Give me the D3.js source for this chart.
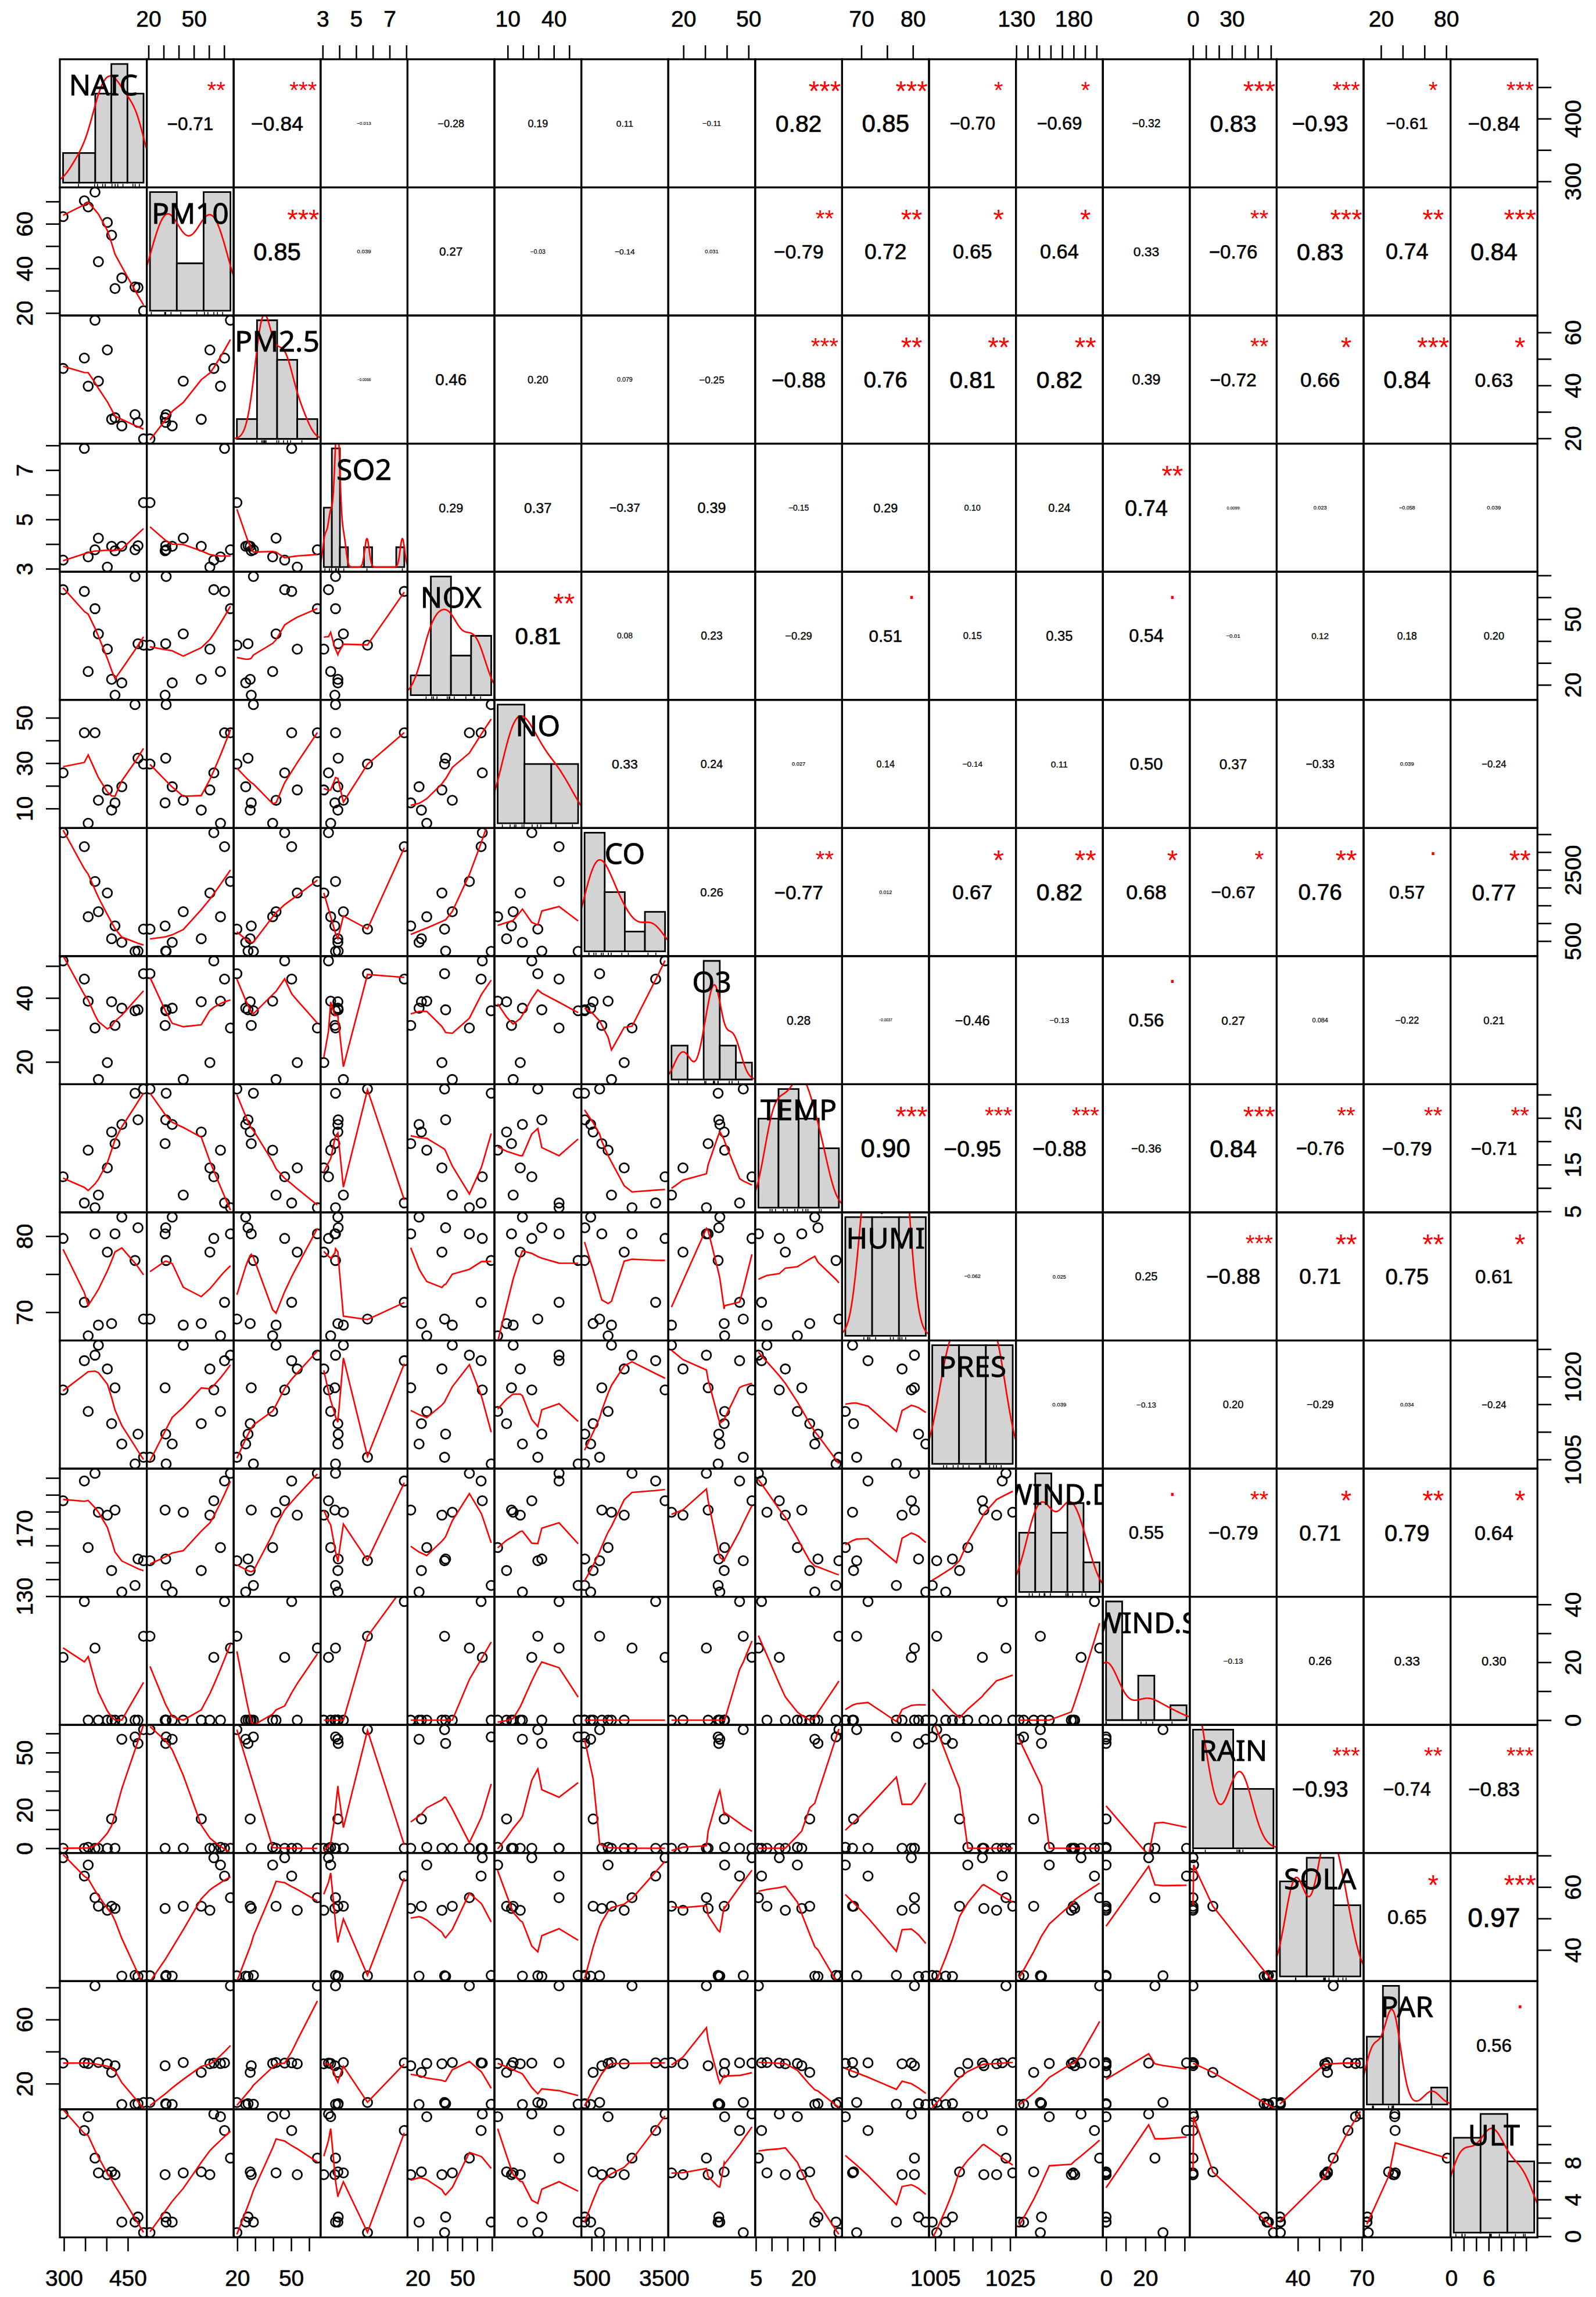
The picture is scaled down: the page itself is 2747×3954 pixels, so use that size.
<!DOCTYPE html>
<html>
<head>
<meta charset="utf-8">
<script src="https://cdn.jsdelivr.net/npm/d3@7"></script>
<style>
  body { margin: 0; background: #fff; }
</style>
</head>
<body>
<div id="chart"></div>
<script>
// Variables in the order of the matrix
const vars = ["NAIC", "PM10", "PM2.5", "SO2", "NOX", "NO", "CO", "O3", "TEMP",
              "HUMI", "PRES", "WIND.D", "WIND.S", "RAIN", "SOLA", "PAR", "ULT"];

const NAIC  = [298, 348, 357, 373, 381, 402, 412, 420, 436, 467, 474, 487];
const PM10  = [63.2, 70.3, 67.6, 74.2, 43.0, 60.6, 54.9, 31.0, 35.7, 31.7, 31.4, 21.0];
const PM25  = [46.4, 50.3, 39.7, 64.6, 41.6, 53.4, 27.2, 27.8, 24.7, 29.0, 26.0, 19.8];
const SO2   = [3.35, 7.88, 3.48, 3.77, 4.24, 3.07, 3.91, 3.73, 3.91, 3.77, 3.93, 5.68];
const NOX   = [63.5, 62.7, 26.1, 54.8, 43.3, 36.3, 22.5, 15.3, 20.9, 69.5, 38.8, 38.1];
const NO    = [25.7, 43.4, 3.5, 43.4, 13.6, 18.2, 9.3, 12.5, 19.6, 55.8, 32.2, 29.6];
const CO    = [3543, 3154, 1184, 2175, 1325, 1852, 565, 925, 463, 210, 220, 834];
const O3    = [51.6, 45.9, 39.0, 30.6, 14.5, 19.8, 38.8, 31.4, 36.8, 36.0, 36.3, 47.6];
const TEMP  = [12.4, 6.8, 18.1, 5.8, 8.5, 14.3, 22.0, 19.5, 23.6, 30.3, 24.6, 31.2];
const HUMI  = [79.7, 71.3, 66.9, 80.3, 68.3, 77.9, 68.5, 80.3, 82.5, 76.8, 81.1, 69.1];
const PRES  = [1017.6, 1022.9, 1013.7, 1023.9, 1025.7, 1021.4, 1011.5, 1018.0, 1007.8, 1004.2, 1009.6, 1005.4];
const WINDD = [186.5, 198.2, 158.8, 202.7, 179.7, 178.0, 145.2, 181.0, 132.5, 136.4, 152.0, 151.0];
const WINDS = [21.7, 41.0, 0, 24.9, 0, 0, 0, 0, 0, 0, 0, 29.0];
const RAIN  = [0, 0, 0.5, 0, 0, 0, 15.3, 0, 57.0, 58.2, 54.8, 62.0];
const SOLA  = [69.3, 63.5, 67.0, 56.6, 53.9, 52.6, 53.9, 53.2, 31.7, 31.9, 31.6, 31.8];
const PAR   = [32.8, 33.0, 32.6, 81.0, 33.2, 32.4, 27.0, 31.2, 7.0, 7.2, 7.5, 8.3];
const ULT   = [13.3, 11.5, 13.0, 8.5, 6.9, 6.7, 7.0, 6.7, 1.55, 1.55, 2.1, 0.4];

const series = [NAIC, PM10, PM25, SO2, NOX, NO, CO, O3, TEMP, HUMI, PRES, WINDD, WINDS, RAIN, SOLA, PAR, ULT];

// histogram breaks of the diagonal panels
const histBreaks = [
  [250, 300, 350, 400, 450, 500],
  [20, 40, 60, 80],
  [0, 20, 40, 60, 80],
  [3, 3.5, 4, 4.5, 5, 5.5, 6, 6.5, 7, 7.5, 8],
  [0, 20, 40, 60, 80],
  [0, 20, 40, 60],
  [0, 1000, 2000, 3000, 4000],
  [10, 20, 30, 40, 50, 60],
  [0, 10, 20, 30, 40],
  [60, 70, 80, 90],
  [1000, 1010, 1020, 1030],
  [120, 140, 160, 180, 200, 220],
  [0, 10, 20, 30, 40, 50],
  [0, 50, 100],
  [20, 40, 60, 80],
  [0, 20, 40, 60, 80, 100],
  [0, 5, 10, 15]
];

// correlations printed in the upper panels, row by row (columns to the right of the diagonal)
const corValues = [
  [-0.71, -0.84, -0.013, -0.28, 0.19, 0.11, -0.11, 0.82, 0.85, -0.70, -0.69, -0.32, 0.83, -0.93, -0.61, -0.84],
  [0.85, 0.039, 0.27, -0.03, -0.14, 0.031, -0.79, 0.72, 0.65, 0.64, 0.33, -0.76, 0.83, 0.74, 0.84],
  [-0.0066, 0.46, 0.20, 0.079, -0.25, -0.88, 0.76, 0.81, 0.82, 0.39, -0.72, 0.66, 0.84, 0.63],
  [0.29, 0.37, -0.37, 0.39, -0.15, 0.29, 0.10, 0.24, 0.74, 0.0099, 0.023, -0.058, 0.039],
  [0.81, 0.08, 0.23, -0.29, 0.51, 0.15, 0.35, 0.54, -0.01, 0.12, 0.18, 0.20],
  [0.33, 0.24, 0.027, 0.14, -0.14, 0.11, 0.50, 0.37, -0.33, 0.039, -0.24],
  [0.26, -0.77, 0.012, 0.67, 0.82, 0.68, -0.67, 0.76, 0.57, 0.77],
  [0.28, -0.0037, -0.46, -0.13, 0.56, 0.27, 0.084, -0.22, 0.21],
  [0.90, -0.95, -0.88, -0.36, 0.84, -0.76, -0.79, -0.71],
  [-0.062, 0.025, 0.25, -0.88, 0.71, 0.75, 0.61],
  [0.039, -0.13, 0.20, -0.29, 0.034, -0.24],
  [0.55, -0.79, 0.71, 0.79, 0.64],
  [-0.13, 0.26, 0.33, 0.30],
  [-0.93, -0.74, -0.83],
  [0.65, 0.97],
  [0.56]
];
const corStars = [
  ["**", "***", "", "", "", "", "", "***", "***", "*", "*", "", "***", "***", "*", "***"],
  ["***", "", "", "", "", "", "**", "**", "*", "*", "", "**", "***", "**", "***"],
  ["", "", "", "", "", "***", "**", "**", "**", "", "**", "*", "***", "*"],
  ["", "", "", "", "", "", "", "", "**", "", "", "", ""],
  ["**", "", "", "", ".", "", "", ".", "", "", "", ""],
  ["", "", "", "", "", "", "", "", "", "", ""],
  ["", "**", "", "*", "**", "*", "*", "**", ".", "**"],
  ["", "", "", "", ".", "", "", "", ""],
  ["***", "***", "***", "", "***", "**", "**", "**"],
  ["", "", "", "***", "**", "**", "*"],
  ["", "", "", "", "", ""],
  [".", "**", "*", "**", "*"],
  ["", "", "", ""],
  ["***", "**", "***"],
  ["*", "***"],
  ["."]
];

// Layout
const W = 2747, H = 3954;
const gx0 = 103, gy0 = 102, pw = 149.6, ph = 220.55;
const nv = vars.length, n = NAIC.length;
const numFont = "'Liberation Sans', Arial, sans-serif";
const labFont = "'Noto Sans', 'DejaVu Sans', sans-serif";
const axisSize = 39;

const svg = d3.select("#chart").append("svg")
  .attr("width", W).attr("height", H)
  .style("display", "block");
svg.append("rect").attr("width", W).attr("height", H).attr("fill", "#fff");
const defs = svg.append("defs");

// text width measuring (in em)
const ctx = document.createElement("canvas").getContext("2d");
function emWidth(txt, font) {
  ctx.font = "100px " + font;
  return ctx.measureText(txt).width / 100;
}

// scales of each variable (R pads the range by 4%)
const padDomain = v => { const [a, b] = d3.extent(v); const p = 0.04 * (b - a); return [a - p, b + p]; };
const xScales = series.map((v, j) => d3.scaleLinear().domain(padDomain(v)).range([gx0 + j * pw, gx0 + (j + 1) * pw]));
const yScales = series.map((v, i) => d3.scaleLinear().domain(padDomain(v)).range([gy0 + (i + 1) * ph, gy0 + i * ph]));

// R's lowess (clowess port)
function lowest(x, y, n, xs, nleft, nright, w, userw, rw) {
  const range = x[n - 1] - x[0];
  const h = Math.max(xs - x[nleft], x[nright] - xs);
  const h9 = 0.999 * h, h1 = 0.001 * h;
  let a = 0, j = nleft;
  while (j < n) {
    w[j] = 0;
    const r = Math.abs(x[j] - xs);
    if (r <= h9) {
      w[j] = r <= h1 ? 1 : Math.pow(1 - Math.pow(r / h, 3), 3);
      if (userw) w[j] *= rw[j];
      a += w[j];
    } else if (x[j] > xs) break;
    j++;
  }
  const nrt = j - 1;
  if (a <= 0) return null;
  for (j = nleft; j <= nrt; j++) w[j] /= a;
  if (h > 0) {
    a = 0;
    for (j = nleft; j <= nrt; j++) a += w[j] * x[j];
    let b = xs - a, c = 0;
    for (j = nleft; j <= nrt; j++) c += w[j] * (x[j] - a) * (x[j] - a);
    if (Math.sqrt(c) > 0.001 * range) {
      b /= c;
      for (j = nleft; j <= nrt; j++) w[j] *= (b * (x[j] - a) + 1);
    }
  }
  let ys = 0;
  for (j = nleft; j <= nrt; j++) ys += w[j] * y[j];
  return ys;
}

function lowess(xIn, yIn, f = 2 / 3, iter = 3) {
  const order = d3.range(xIn.length).sort((a, b) => xIn[a] - xIn[b]);
  const x = order.map(k => xIn[k]), y = order.map(k => yIn[k]);
  const n = x.length;
  const ns = Math.max(2, Math.min(n, Math.floor(f * n + 1e-7)));
  const delta = 0.01 * (x[n - 1] - x[0]);
  const ys = new Array(n).fill(0), rw = new Array(n).fill(1),
        res = new Array(n).fill(0), w = new Array(n).fill(0);
  for (let it = 1; it <= iter + 1; it++) {
    let nleft = 0, nright = ns - 1, last = -1, i = 0;
    for (;;) {
      while (nright < n - 1) {
        const d1 = x[i] - x[nleft], d2 = x[nright + 1] - x[i];
        if (d1 <= d2) break;
        nleft++; nright++;
      }
      const v = lowest(x, y, n, x[i], nleft, nright, w, it > 1, rw);
      ys[i] = v === null ? y[i] : v;
      if (last < i - 1) {
        const denom = x[i] - x[last];
        for (let j = last + 1; j < i; j++) {
          const alpha = (x[j] - x[last]) / denom;
          ys[j] = alpha * ys[i] + (1 - alpha) * ys[last];
        }
      }
      last = i;
      const cut = x[last] + delta;
      for (i = last + 1; i < n; i++) {
        if (x[i] > cut) break;
        if (x[i] === x[last]) { ys[i] = ys[last]; last = i; }
      }
      i = Math.max(last + 1, i - 1);
      if (last >= n - 1) break;
    }
    for (let k = 0; k < n; k++) res[k] = y[k] - ys[k];
    if (it > iter) break;
    const sc = d3.sum(res, r => Math.abs(r)) / n;
    const ar = res.map(Math.abs).sort((a, b) => a - b);
    const m1 = Math.floor(n / 2);
    const cmad = n % 2 === 0 ? 3 * (ar[m1 - 1] + ar[m1]) : 6 * ar[m1];
    if (cmad < 1e-7 * sc) break;
    const c9 = 0.999 * cmad, c1 = 0.001 * cmad;
    for (let k = 0; k < n; k++) {
      const r = Math.abs(res[k]);
      rw[k] = r <= c1 ? 1 : r <= c9 ? Math.pow(1 - Math.pow(r / cmad, 2), 2) : 0;
    }
  }
  return x.map((d, k) => [d, ys[k]]);
}

// gaussian density with bw.nrd0, like R's density()
function density(v) {
  const m = v.length;
  const s = d3.deviation(v);
  const sorted = v.slice().sort(d3.ascending);
  const iqr = d3.quantileSorted(sorted, 0.75) - d3.quantileSorted(sorted, 0.25);
  let lo = Math.min(s, iqr / 1.34);
  if (!(lo > 0)) lo = s || Math.abs(sorted[0]) || 1;
  const bw = 0.9 * lo * Math.pow(m, -0.2);
  const [a, b] = d3.extent(v);
  return d3.range(512).map(k => {
    const x = a - 3 * bw + k * (b - a + 6 * bw) / 511;
    const y = d3.sum(v, xi => Math.exp(-0.5 * ((x - xi) / bw) ** 2)) / (m * bw * Math.sqrt(2 * Math.PI));
    return [x, y];
  });
}

// counts in (a,b] bins, lowest included
function histCounts(v, br) {
  const c = new Array(br.length - 1).fill(0);
  v.forEach(x => {
    let k = br.findIndex((b, i) => i > 0 && x <= b);
    if (k < 1) k = 1;
    c[k - 1]++;
  });
  return c;
}

// R's pretty() as used for axis ticks
function rPretty(lo, up, ndiv = 5) {
  const cell = (up - lo) / ndiv;
  const U = Math.pow(10, Math.floor(Math.log10(cell)));
  let unit = U;
  if (2 * U - cell < 0.8 * (cell - unit)) {
    unit = 2 * U;
    if (5 * U - cell < 1.7 * (cell - unit)) {
      unit = 5 * U;
      if (10 * U - cell < 0.8 * (cell - unit)) unit = 10 * U;
    }
  }
  const out = [];
  for (let k = Math.ceil(lo / unit - 1e-9); k * unit <= up + 1e-9; k++) out.push(+(k * unit).toFixed(10));
  return out;
}

// 2 significant digits, trailing zeros kept to 2 decimals (R's format)
function fmtCor(r) {
  const v = +r.toPrecision(2);
  let dec = 2;
  while (dec < 6 && +v.toFixed(dec) !== v) dec++;
  return v.toFixed(dec);
}

// Panels
for (let i = 0; i < nv; i++) {
  for (let j = 0; j < nv; j++) {
    const x0 = gx0 + j * pw, y0 = gy0 + i * ph;
    const cid = `clip-${i}-${j}`;
    defs.append("clipPath").attr("id", cid)
      .append("rect").attr("x", x0).attr("y", y0).attr("width", pw).attr("height", ph);
    const g = svg.append("g").attr("clip-path", `url(#${cid})`);

    if (i > j) {
      // scatter with lowess smoother
      const xs = xScales[j], ys = yScales[i];
      g.selectAll("circle")
        .data(d3.range(n))
        .join("circle")
          .attr("cx", k => xs(series[j][k]))
          .attr("cy", k => ys(series[i][k]))
          .attr("r", 8)
          .attr("fill", "none")
          .attr("stroke", "#000")
          .attr("stroke-width", 2.8);
      g.append("path")
        .attr("d", d3.line().x(d => xs(d[0])).y(d => ys(d[1]))(lowess(series[j], series[i])))
        .attr("fill", "none")
        .attr("stroke", "red")
        .attr("stroke-width", 2.6);
    } else if (i === j) {
      // histogram, density line, rug and the variable name
      const v = series[i], br = histBreaks[i];
      const cnt = histCounts(v, br);
      const bw = br[1] - br[0];
      const dens = cnt.map(c => c / (n * bw));
      const span = br[br.length - 1] - br[0];
      const hx = d3.scaleLinear()
        .domain([br[0] - 0.04 * span, br[br.length - 1] + 0.04 * span])
        .range([x0, x0 + pw]);
      const ymax = d3.max(dens);
      const hy = d3.scaleLinear().domain([-0.04 * ymax, 1.04 * ymax]).range([y0 + ph, y0]);
      g.selectAll("path.bar")
        .data(dens)
        .join("path")
          .attr("class", "bar")
          .attr("d", (d, k) => `M${hx(br[k])},${hy(0)}V${hy(d)}H${hx(br[k + 1])}V${hy(0)}Z`)
          .attr("fill", "#d3d3d3")
          .attr("stroke", "#000")
          .attr("stroke-width", 2.8);
      g.append("path")
        .attr("d", d3.line().x(d => hx(d[0])).y(d => hy(d[1]))(density(v)))
        .attr("fill", "none")
        .attr("stroke", "red")
        .attr("stroke-width", 2.6);
      g.selectAll("line.rug")
        .data(v)
        .join("line")
          .attr("class", "rug")
          .attr("x1", d => hx(d)).attr("x2", d => hx(d))
          .attr("y1", y0 + ph).attr("y2", y0 + ph - 6)
          .attr("stroke", "#000")
          .attr("stroke-width", 1.6);
      g.append("text")
        .attr("x", x0 + pw / 2)
        .attr("y", y0 + 62)
        .attr("text-anchor", "middle")
        .attr("font-family", labFont)
        .attr("font-size", 50)
        .attr("fill", "#000")
        .attr("stroke", "#000")
        .attr("stroke-width", 0.8)
        .text(vars[i]);
    } else {
      // correlation text, sized by |r| (width measured with a plain hyphen), with stars
      const r = corValues[i][j - i - 1], st = corStars[i][j - i - 1];
      const raw = fmtCor(r);
      const em = emWidth(raw, numFont);
      const fs = 71 * (Math.abs(r) + 0.3) / em;
      g.append("text")
        .attr("x", x0 + pw / 2)
        .attr("y", y0 + ph / 2 + 0.358 * fs)
        .attr("text-anchor", "middle")
        .attr("font-family", numFont)
        .attr("font-size", fs)
        .attr("fill", "#000")
        .attr("stroke", "#000")
        .attr("stroke-width", fs * 0.018)
        .text(raw.replace("-", "\u2212"));
      if (st) {
        const sfs = 92.3 / em;
        g.append("text")
          .attr("x", x0 + 0.8 * pw)
          .attr("y", y0 + 0.2 * ph + (st === "." ? 0.052 : 0.573) * sfs)
          .attr("text-anchor", "middle")
          .attr("font-family", numFont)
          .attr("font-size", sfs)
          .attr("fill", "red")
          .text(st);
      }
    }
  }
}

// panel boxes
svg.append("g")
  .selectAll("rect")
  .data(d3.cross(d3.range(nv), d3.range(nv)))
  .join("rect")
    .attr("x", d => gx0 + d[1] * pw)
    .attr("y", d => gy0 + d[0] * ph)
    .attr("width", pw)
    .attr("height", ph)
    .attr("fill", "none")
    .attr("stroke", "#000")
    .attr("stroke-width", 3.2);

// Axes: alternate sides as pairs() does, labels dropped when they would overlap
const gapM = emWidth("m", numFont) * axisSize;
function drawAxis(side, scale, translate) {
  const vertical = side === "left" || side === "right";
  const ticks = rPretty(...scale.domain());
  const axisFn = { top: d3.axisTop, bottom: d3.axisBottom, left: d3.axisLeft, right: d3.axisRight }[side];
  const g = svg.append("g")
    .attr("transform", translate)
    .call(axisFn(scale).tickValues(ticks).tickSize(24).tickPadding(0).tickFormat(d => String(d)));
  g.select(".domain").remove();
  g.selectAll(".tick line").attr("stroke", "#000").attr("stroke-width", 2.6);
  const texts = g.selectAll(".tick text")
    .attr("font-family", numFont)
    .attr("font-size", axisSize)
    .attr("fill", "#000")
    .attr("stroke", "#000")
    .attr("stroke-width", 0.6)
    .attr("text-anchor", "middle")
    .attr("dy", "0.358em");
  if (side === "top") texts.attr("y", -70);
  if (side === "bottom") texts.attr("y", 70);
  if (vertical) {
    const off = side === "left" ? -61 : 61;
    texts.attr("x", 0).attr("y", 0).attr("transform", `translate(${off},0) rotate(-90)`);
  }
  let last = -Infinity;
  texts.each(function (d) {
    const w = emWidth(String(d), numFont) * axisSize;
    const p = vertical ? -scale(d) : scale(d);
    const start = p - w / 2;
    if (start - last >= gapM) last = start + w;
    else d3.select(this).remove();
  });
}

for (let j = 0; j < nv; j++) {
  if (j % 2 === 1) drawAxis("top", xScales[j], `translate(0,${gy0})`);
  else drawAxis("bottom", xScales[j], `translate(0,${gy0 + nv * ph})`);
}
for (let i = 0; i < nv; i++) {
  if (i % 2 === 1) drawAxis("left", yScales[i], `translate(${gx0},0)`);
  else drawAxis("right", yScales[i], `translate(${gx0 + nv * pw},0)`);
}
</script>
</body>
</html>
